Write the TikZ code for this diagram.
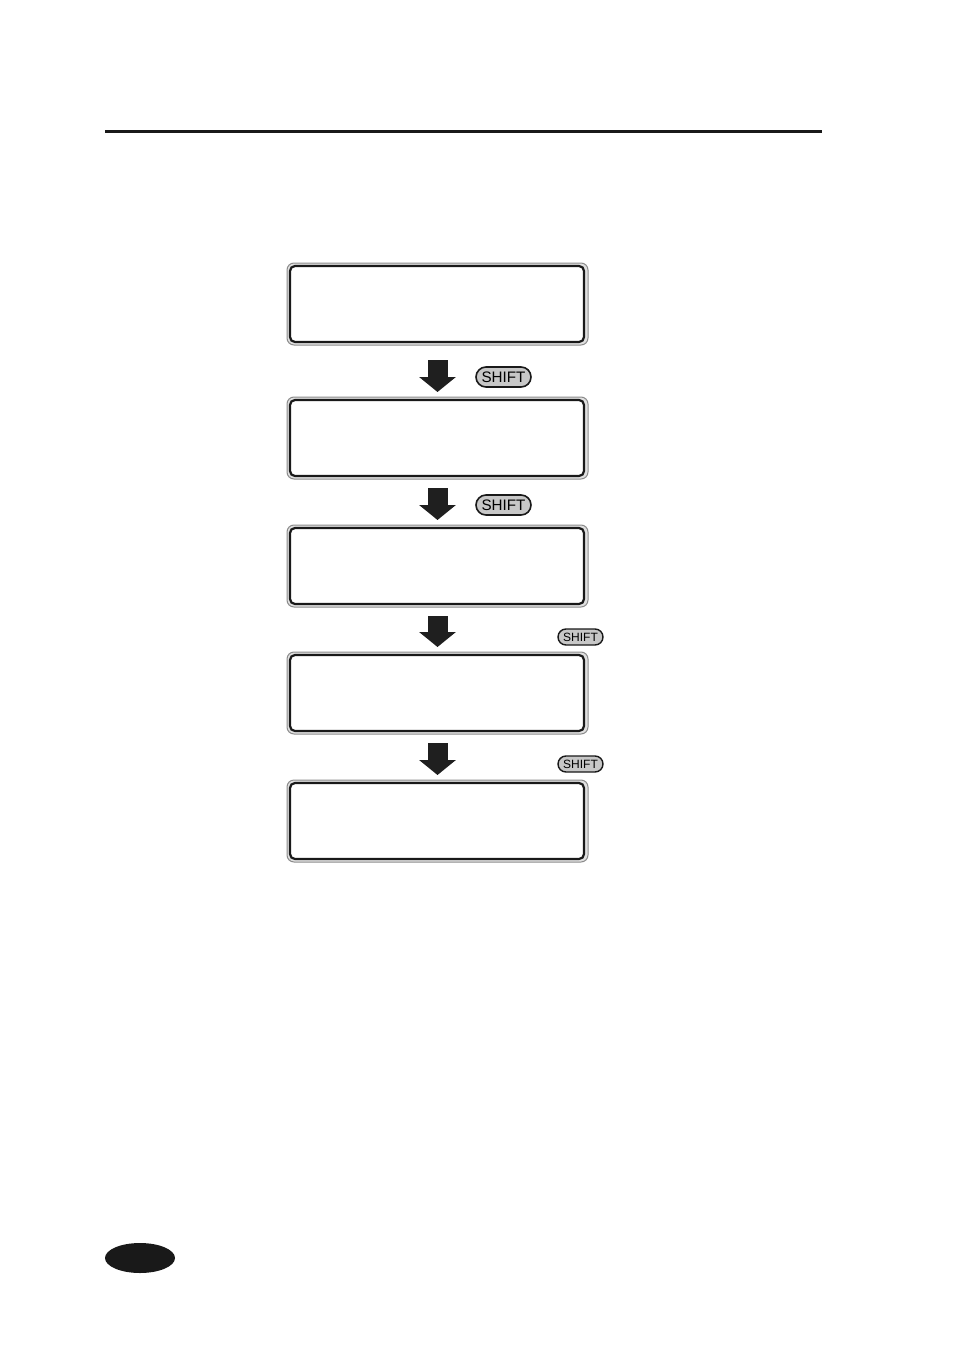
\documentclass[tikz,border=0pt]{standalone}
\usepackage{fontspec}
\setsansfont{Liberation Sans}
\usetikzlibrary{positioning, arrows.meta, shapes.misc}

\tikzset{
  lcd/.style={draw=black!45, fill=black!12, line width=0.5pt, rounded corners=3.5pt,
    minimum width=150.5pt, minimum height=41pt, inner sep=0pt, outer sep=0pt},
  lcdframe/.style={draw=black!90, fill=white, line width=1.1pt, rounded corners=2.5pt},
  blockarr/.style={draw=black!88, line width=10pt, shorten <=4.5pt, shorten >=2.5pt,
    -{Triangle[width=18pt, length=7.5pt]}},
  shiftkey/.style={rounded rectangle, draw=black!90, fill=black!22, line width=0.8pt,
    inner sep=0pt, minimum width=27.5pt, minimum height=10pt, font=\fontsize{7.6}{8}\sffamily},
  smallkey/.style={shiftkey, line width=0.7pt, minimum width=22.5pt, minimum height=8pt,
    font=\fontsize{6}{7}\sffamily}
}

\begin{document}
\begin{tikzpicture}[x=0.5pt, y=-0.5pt, node distance=23pt]
    \useasboundingbox (0,0) rectangle (954,1348);

    % header rule
    \draw[line width=1.5pt, black!90] (105,132) -- (822,132);

    % display panels
    \node[lcd] (disp1) at (437.5,304) {};
    \node[lcd, below=26pt of disp1] (disp2) {};
    \node[lcd, below=of disp2] (disp3) {};
    \node[lcd, below=22.5pt of disp3] (disp4) {};
    \node[lcd, below=of disp4] (disp5) {};
    \foreach \d in {disp1,disp2,disp3,disp4,disp5}
        \draw[lcdframe] ([shift={(3,3)}]\d.north west) rectangle ([shift={(-4,-3)}]\d.south east);

    % steps
    \draw[blockarr, shorten <=7.5pt] (disp1) -- (disp2);
    \draw[blockarr] (disp2) -- (disp3);
    \draw[blockarr] (disp3) -- (disp4);
    \draw[blockarr] (disp4) -- (disp5);

    % keys
    \node[shiftkey] (key1) at (503.5,377) {SHIFT};
    \node[shiftkey] (key2) at (503.5,505) {SHIFT};
    \node[smallkey] (key3) at (580.5,637) {SHIFT};
    \node[smallkey] (key4) at (580.5,764) {SHIFT};

    % page tab
    \fill[black!90] (140,1258) ellipse [x radius=35, y radius=15];
\end{tikzpicture}
\end{document}
